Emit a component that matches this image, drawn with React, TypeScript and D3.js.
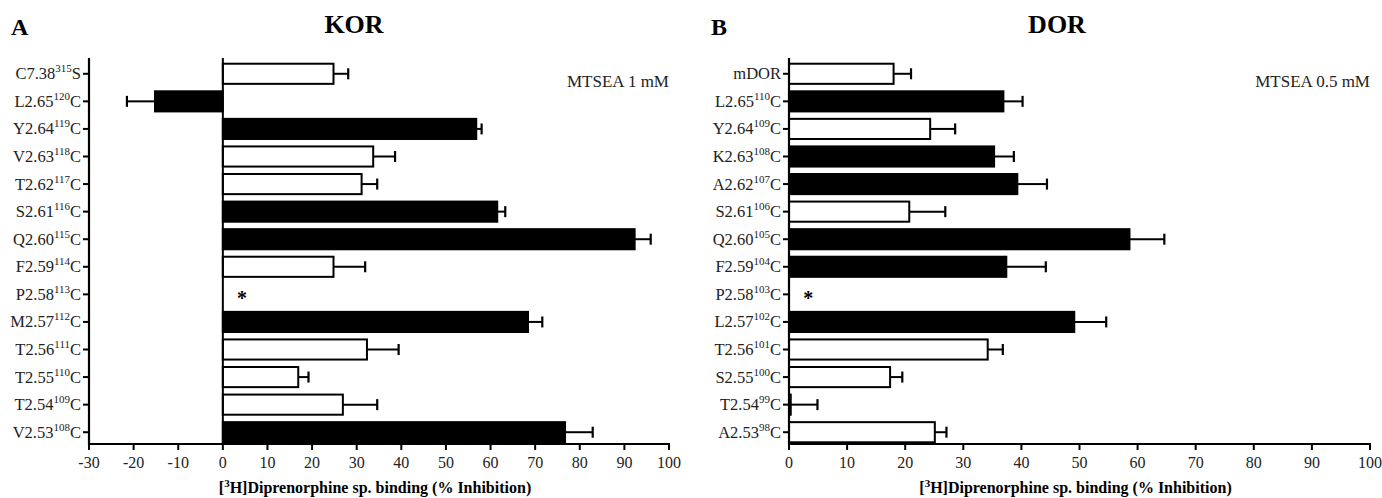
import React, { useEffect, useRef } from 'react'
import * as d3 from 'd3'

const FONT = '"Liberation Serif", "Times New Roman", serif'

// KOR panel (A)
const korLabels = [
  ['C7.38', '315', 'S'], ['L2.65', '120', 'C'], ['Y2.64', '119', 'C'], ['V2.63', '118', 'C'],
  ['T2.62', '117', 'C'], ['S2.61', '116', 'C'], ['Q2.60', '115', 'C'], ['F2.59', '114', 'C'],
  ['P2.58', '113', 'C'], ['M2.57', '112', 'C'], ['T2.56', '111', 'C'], ['T2.55', '110', 'C'],
  ['T2.54', '109', 'C'], ['V2.53', '108', 'C'],
]
const korValues = [24.8, -15.2, 56.8, 33.7, 31.1, 61.5, 92.3, 24.8, null, 68.4, 32.3, 16.9, 26.9, 76.7]
const korErrors = [3.3, 6.3, 1.2, 4.9, 3.5, 1.8, 3.6, 7.1, null, 3.2, 7.1, 2.3, 7.7, 6.2]
const korFilled = [false, true, true, false, false, true, true, false, false, true, false, false, false, true]
const korTicks = [-30, -20, -10, 0, 10, 20, 30, 40, 50, 60, 70, 80, 90, 100]

// DOR panel (B)
const dorLabels = [
  ['mDOR', '', ''], ['L2.65', '110', 'C'], ['Y2.64', '109', 'C'], ['K2.63', '108', 'C'],
  ['A2.62', '107', 'C'], ['S2.61', '106', 'C'], ['Q2.60', '105', 'C'], ['F2.59', '104', 'C'],
  ['P2.58', '103', 'C'], ['L2.57', '102', 'C'], ['T2.56', '101', 'C'], ['S2.55', '100', 'C'],
  ['T2.54', '99', 'C'], ['A2.53', '98', 'C'],
]
const dorValues = [18.0, 36.9, 24.3, 35.3, 39.3, 20.7, 58.6, 37.4, null, 49.1, 34.2, 17.4, 0.3, 25.1]
const dorErrors = [3.0, 3.3, 4.3, 3.4, 5.1, 6.2, 6.0, 6.8, null, 5.5, 2.6, 2.1, 4.6, 2.0]
const dorFilled = [false, true, false, true, true, false, true, true, false, true, false, false, false, false]
const dorTicks = [0, 10, 20, 30, 40, 50, 60, 70, 80, 90, 100]

const AXIS_TITLE = 'Diprenorphine sp. binding (% Inhibition)'

function drawPanel(svg, opts) {
  const { letter, title, note, labels, values, errors, filled, ticks, xRange, starAt } = opts
  const g = svg.append('g').attr('font-family', FONT).attr('fill', '#000')
  const top = 58
  const bottom = 444

  const x = d3.scaleLinear().domain([ticks[0], ticks[ticks.length - 1]]).range(xRange)
  const y = d3.scaleBand().domain(labels.map((_, i) => i)).range([60, 446]).paddingInner(0.27).paddingOuter(0.135)

  // bars
  labels.forEach((_, i) => {
    const v = values[i]
    if (v == null) return
    const x0 = x(Math.min(0, v))
    const w = Math.max(1, Math.abs(x(v) - x(0)))
    const by = y(i)
    const bh = y.bandwidth()
    const mid = by + bh / 2
    const dir = v < 0 ? -1 : 1
    const xe = x(v + dir * errors[i])
    g.append('line').attr('x1', x(v)).attr('x2', xe).attr('y1', mid).attr('y2', mid)
      .attr('stroke', '#000').attr('stroke-width', 2)
    g.append('line').attr('x1', xe).attr('x2', xe).attr('y1', mid - 5.5).attr('y2', mid + 5.5)
      .attr('stroke', '#000').attr('stroke-width', 2.2)
    g.append('rect').attr('x', x0).attr('y', by).attr('width', w).attr('height', bh)
      .attr('fill', filled[i] ? '#000' : '#fff').attr('stroke', '#000').attr('stroke-width', 2)
  })

  // star for the missing mutant
  const si = values.findIndex((v) => v == null)
  g.append('text').attr('x', x(starAt)).attr('y', y(si) + y.bandwidth() / 2 + 11)
    .attr('text-anchor', 'middle').attr('font-size', 20).attr('font-weight', 'bold').text('*')

  // zero line
  if (ticks[0] < 0) {
    g.append('line').attr('x1', x(0)).attr('x2', x(0)).attr('y1', top).attr('y2', bottom)
      .attr('stroke', '#000').attr('stroke-width', 2)
  }

  // y axis
  g.append('line').attr('x1', xRange[0]).attr('x2', xRange[0]).attr('y1', top).attr('y2', bottom + 1)
    .attr('stroke', '#000').attr('stroke-width', 2.2)
  labels.forEach((lab, i) => {
    const cy = y(i) + y.bandwidth() / 2
    g.append('line').attr('x1', xRange[0] - 6).attr('x2', xRange[0]).attr('y1', cy).attr('y2', cy)
      .attr('stroke', '#000').attr('stroke-width', 2)
    const t = g.append('text').attr('x', xRange[0] - 8).attr('y', cy + 5.5)
      .attr('text-anchor', 'end').attr('font-size', 16.5).attr('fill', '#222')
    t.append('tspan').text(lab[0])
    if (lab[1]) {
      t.append('tspan').attr('font-size', 11).attr('dy', -7).text(lab[1])
      t.append('tspan').attr('dy', 7).text(lab[2])
    }
  })

  // x axis
  g.append('line').attr('x1', xRange[0] - 1).attr('x2', xRange[1] + 1).attr('y1', bottom).attr('y2', bottom)
    .attr('stroke', '#000').attr('stroke-width', 2.2)
  ticks.forEach((t) => {
    g.append('line').attr('x1', x(t)).attr('x2', x(t)).attr('y1', bottom).attr('y2', bottom + 6)
      .attr('stroke', '#000').attr('stroke-width', 2)
    g.append('text').attr('x', x(t)).attr('y', bottom + 24).attr('text-anchor', 'middle')
      .attr('font-size', 16).attr('fill', '#222').text(t)
  })

  const cx = (xRange[0] + xRange[1]) / 2
  const at = g.append('text').attr('x', cx - 4).attr('y', 493).attr('text-anchor', 'middle')
    .attr('font-size', 16).attr('font-weight', 'bold')
  at.append('tspan').text('[')
  at.append('tspan').attr('font-size', 11).attr('dy', -6).text('3')
  at.append('tspan').attr('dy', 6).text('H]' + AXIS_TITLE)

  // headings
  g.append('text').attr('x', xRange[0] - 78).attr('y', 35).attr('font-size', 24).attr('font-weight', 'bold').text(letter)
  g.append('text').attr('x', opts.titleX).attr('y', 33).attr('text-anchor', 'middle')
    .attr('font-size', 26).attr('font-weight', 'bold').text(title)
  g.append('text').attr('x', xRange[1]).attr('y', 87).attr('text-anchor', 'end')
    .attr('font-size', 17).attr('fill', '#222').text(note)
}

export default function App() {
  const svgRef = useRef(null)

  useEffect(() => {
    const svg = d3.select(svgRef.current)
    svg.selectAll('*').remove()
    drawPanel(svg, {
      letter: 'A', title: 'KOR', titleX: 354, note: 'MTSEA 1 mM',
      labels: korLabels, values: korValues, errors: korErrors, filled: korFilled,
      ticks: korTicks, xRange: [89, 669], starAt: 4.3,
    })
    drawPanel(svg, {
      letter: 'B', title: 'DOR', titleX: 1057, note: 'MTSEA 0.5 mM',
      labels: dorLabels, values: dorValues, errors: dorErrors, filled: dorFilled,
      ticks: dorTicks, xRange: [789, 1370], starAt: 3.3,
    })
  }, [])

  return (
    <svg ref={svgRef} width={1382} height={498}
      style={{ position: 'absolute', left: 0, top: 0, background: '#fff' }} />
  )
}
